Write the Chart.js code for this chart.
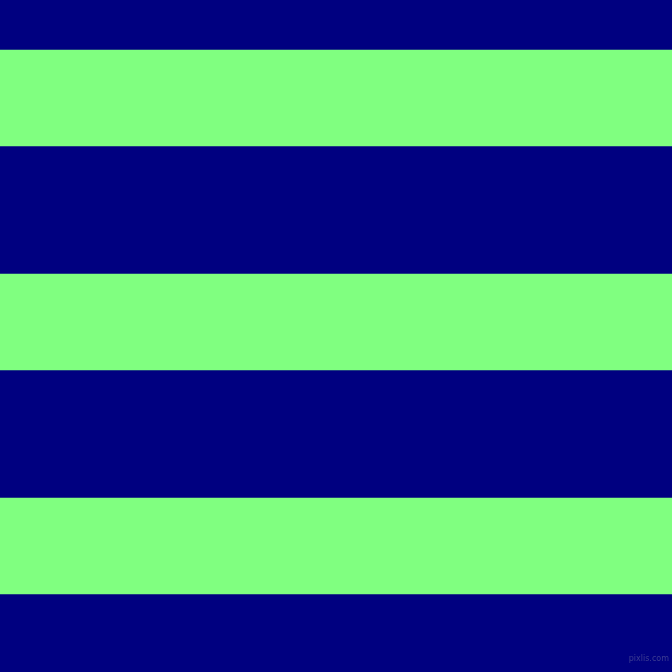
<!DOCTYPE html>
<html>
<head>
<meta charset="utf-8">
<script src="https://cdn.jsdelivr.net/npm/chart.js@4"></script>
<style>
html,body{margin:0;padding:0;background:#000080;overflow:hidden;}
#wrap{position:relative;width:672px;height:672px;}
#mark{position:absolute;right:3px;top:654px;font-family:"DejaVu Sans",sans-serif;font-size:8px;color:#3c3c92;letter-spacing:0px;}
</style>
</head>
<body>
<div id="wrap">
<canvas id="c" width="672" height="672"></canvas>
<div id="mark">pixlis.com</div>
</div>
<script>
// Stripe bands, in pixel rows of the 672-row canvas (top = 0)
const categories = ["stripes"];
const stripeStarts = [50, 274, 498];
const stripeEnds = [146, 370, 594];
const canvasRows = 672;
const stripeColor = "#80FF80";
const backColor = "#000080";

const datasets = stripeStarts.map((s, i) => ({
  label: "stripe " + (i + 1),
  data: [[s, stripeEnds[i]]],
  backgroundColor: stripeColor,
  borderWidth: 0,
  borderSkipped: false,
  grouped: false,
  barPercentage: 1,
  categoryPercentage: 1
}));

new Chart(document.getElementById("c"), {
  type: "bar",
  data: { labels: categories, datasets: datasets },
  options: {
    responsive: false,
    animation: false,
    devicePixelRatio: 1,
    layout: { padding: 0 },
    plugins: { legend: { display: false }, tooltip: { enabled: false }, title: { display: false } },
    scales: {
      x: { display: false, offset: true, grid: { display: false } },
      y: { display: false, min: 0, max: canvasRows, reverse: true, grid: { display: false } }
    }
  }
});
</script>
</body>
</html>
